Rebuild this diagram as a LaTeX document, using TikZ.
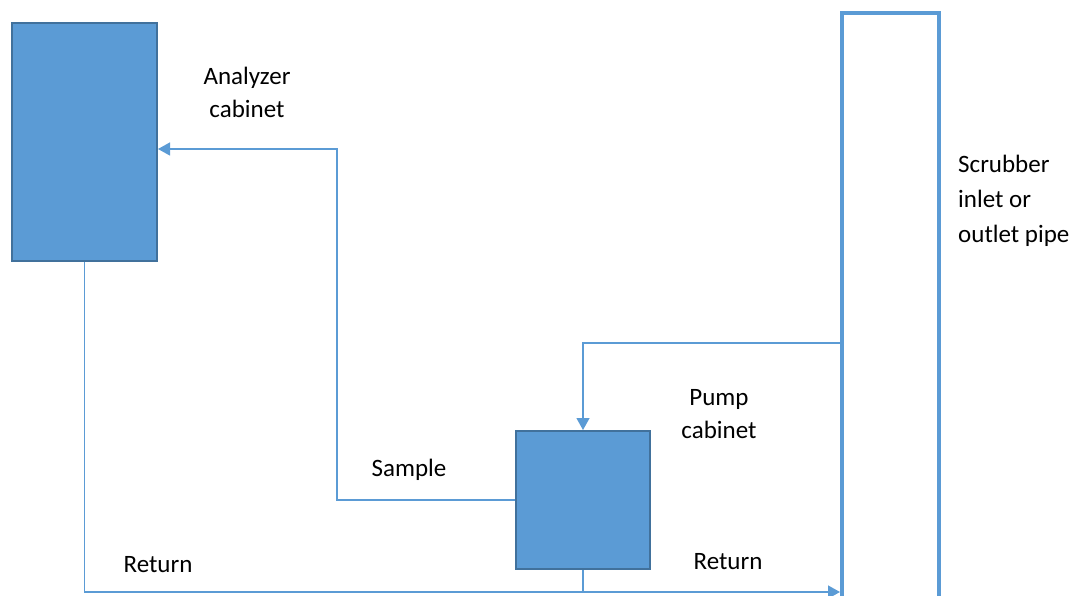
\documentclass[tikz,border=0pt]{standalone}
\usepackage{fontspec}
\setmainfont{Carlito}
\usetikzlibrary{arrows.meta}
\definecolor{cabblue}{RGB}{91,155,213}
\definecolor{cabedge}{RGB}{65,113,156}

\begin{document}
\begin{tikzpicture}[x=1pt, y=-1pt,
  cabinet/.style={draw=cabedge, line width=2pt, fill=cabblue, inner sep=0pt},
  flow/.style={draw=cabblue, line width=1.3pt},
  arrow/.style={flow, -{Triangle[length=12pt, width=13pt]}},
  pipe/.style={draw=cabblue, line width=4pt},
  label/.style={font=\fontsize{25}{33}\selectfont, align=center, inner sep=0pt}
]
  \useasboundingbox (0,0) rectangle (1081,596);

  \node[cabinet, minimum width=145pt, minimum height=238pt] (analyzer) at (84.5,142) {};
  \node[cabinet, minimum width=134pt, minimum height=138pt] (pump)     at (583,500)   {};

  \coordinate (pipeBL) at (842,598);
  \coordinate (pipeTL) at (842,13);
  \coordinate (pipeTR) at (939,13);
  \coordinate (pipeBR) at (939,598);
  \coordinate (pipeIn)  at (842,343);
  \coordinate (pipeOut) at (840,592);
  \coordinate (bend)    at (337,149);

  \draw[pipe] (pipeBL) -- (pipeTL) -- (pipeTR) -- (pipeBR);

  \node[label] (analyzerlbl) at (247,92)  {Analyzer\\cabinet};
  \node[label] (pumplbl)     at (719,414) {Pump\\cabinet};
  \node[label, align=left, anchor=west, font=\fontsize{25}{35}\selectfont] (pipelbl) at (958,201)
    {Scrubber\\inlet or\\outlet pipe};
  \node[label] (samplelbl)   at (409,470) {Sample};
  \node[label] (return1)     at (158,565) {Return};
  \node[label] (return2)     at (728,562) {Return};

  \draw[arrow] (pipeIn) -| (pump.north);
  \draw[arrow] (pump.west) -| (bend) -- (analyzer.east |- bend);
  \draw[arrow] (analyzer.south) |- (pipeOut);
  \draw[flow] (pump.south) -- (pump.south |- pipeOut);
\end{tikzpicture}
\end{document}
